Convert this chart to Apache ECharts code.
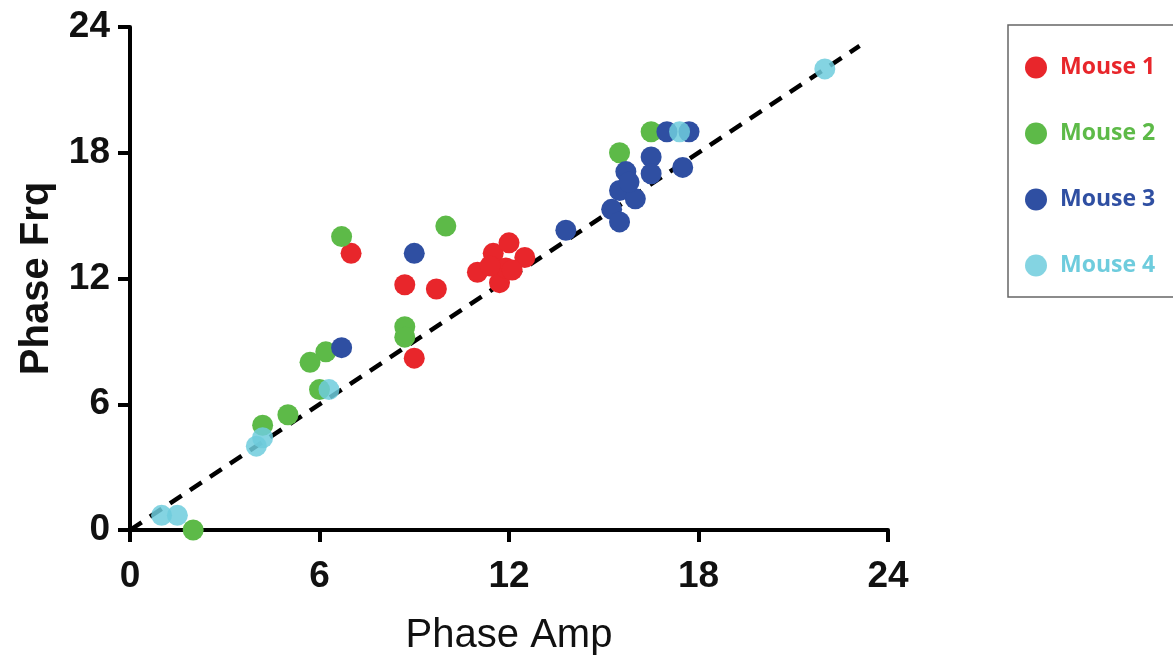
<!DOCTYPE html>
<html>
<head>
<meta charset="utf-8">
<script src="https://cdn.jsdelivr.net/npm/echarts@6/dist/echarts.min.js"></script>
<style>html,body{margin:0;padding:0;background:#fff;}#c{width:1173px;height:662px;}</style>
</head>
<body>
<div id="c"></div>
<script>
const seriesNames = ['Mouse 1', 'Mouse 2', 'Mouse 3', 'Mouse 4'];
const mouse1 = [[7.0,13.2],[8.7,11.7],[9.7,11.5],[9.0,8.2],[11.0,12.3],[11.5,13.2],[12.0,13.7],[12.5,13.0],[11.7,11.8],[11.9,12.5],[11.4,12.6],[12.1,12.4]];
const mouse2 = [[6.7,14.0],[10.0,14.5],[8.7,9.7],[8.7,9.2],[6.2,8.5],[5.7,8.0],[6.0,6.7],[4.2,5.0],[5.0,5.5],[2.0,0.0],[15.5,18.0],[16.5,19.0]];
const mouse3 = [[9.0,13.2],[6.7,8.7],[13.8,14.3],[15.7,17.1],[16.5,17.8],[16.5,17.0],[17.5,17.3],[15.5,16.2],[16.0,15.8],[15.25,15.3],[15.5,14.7],[17.0,19.0],[17.7,19.0],[15.8,16.6]];
const mouse4 = [[22.0,22.0],[17.4,19.0],[6.3,6.7],[4.0,4.0],[4.2,4.4],[1.0,0.7],[1.5,0.7]];
const identityLine = [[0,0],[23.1,23.1]];
const ticks = [0, 6, 12, 18, 24];
const colors = ['#E8262B', '#5DBA48', '#2F4FA2', '#6ECCDD'];

const chart = echarts.init(document.getElementById('c'));
const axisCommon = {
  min: ticks[0], max: ticks[ticks.length-1], interval: 6,
  axisLine: {show: true, onZero: false, lineStyle: {color: '#000', width: 4}},
  axisTick: {show: true, length: 12, lineStyle: {color: '#000', width: 4}},
  splitLine: {show: false},
  axisLabel: {color: '#111', fontFamily: 'Liberation Sans', fontWeight: 'bold', fontSize: 37}
};
const data = [mouse1, mouse2, mouse3, mouse4];
chart.setOption({
  animation: false,
  grid: {left: 130, right: 285, top: 27, bottom: 132},
  xAxis: Object.assign({}, axisCommon, {
    type: 'value', name: 'Phase Amp', nameLocation: 'middle', nameGap: 86,
    nameTextStyle: {fontFamily: 'Liberation Sans', fontSize: 40, color: '#111'},
    axisLabel: Object.assign({}, axisCommon.axisLabel, {margin: 28})
  }),
  yAxis: Object.assign({}, axisCommon, {
    type: 'value', name: 'Phase Frq', nameLocation: 'middle', nameGap: 73, nameRotate: 90,
    nameTextStyle: {fontFamily: 'Liberation Sans', fontWeight: 'bold', fontSize: 40, color: '#111'},
    axisLabel: Object.assign({}, axisCommon.axisLabel, {margin: 20})
  }),
  legend: {
    orient: 'vertical', left: 1020, top: 51, itemGap: 43,
    icon: 'circle', itemWidth: 22, itemHeight: 22,
    textStyle: {fontFamily: 'Open Sans', fontWeight: 'bold', fontSize: 23, padding: [0,0,0,8]},
    data: seriesNames.map((n, i) => ({name: n, textStyle: {color: colors[i]}}))
  },
  graphic: [{type: 'rect', shape: {x: 1008, y: 25, width: 170, height: 272}, style: {fill: 'none', stroke: '#666', lineWidth: 1.5}, z: 0}],
  series: [
    {type: 'line', data: identityLine, symbol: 'none', silent: true, z: 1,
     lineStyle: {color: '#000', width: 4.5, type: [14, 10]}},
    ...seriesNames.map((n, i) => ({
      type: 'scatter', name: n, data: data[i], symbolSize: 21, z: 2 + i,
      itemStyle: {color: colors[i], opacity: i === 3 ? 0.85 : 1}
    }))
  ]
});
</script>
</body>
</html>
